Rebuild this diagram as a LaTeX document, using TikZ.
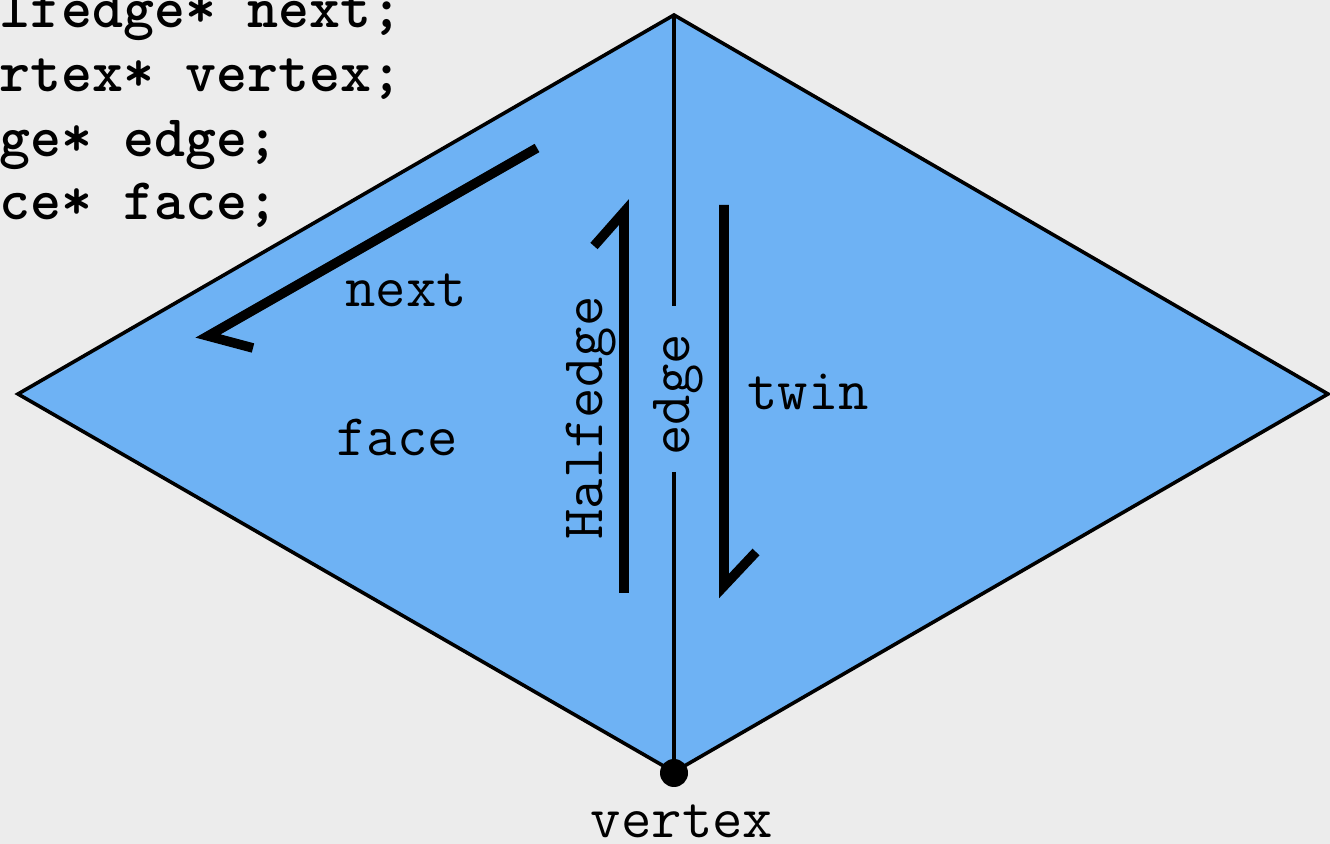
\documentclass[tikz,border=0pt]{standalone}
\usepackage{fontspec}
\definecolor{bg}{HTML}{ECECEC}
\definecolor{facefill}{HTML}{6EB2F4}
\begin{document}
\begin{tikzpicture}[x=0.5pt,y=-0.5pt,
  lbl/.style={font=\ttfamily\fontsize{29.5}{34}\selectfont, inner sep=0pt},
  code/.style={font=\ttfamily\bfseries\fontsize{29.5}{34}\selectfont, inner sep=0pt, anchor=base west},
  thinline/.style={line width=1.8pt},
  harrow/.style={line width=4.8pt, line join=miter, miter limit=20}]
\fill[bg] (0,0) rectangle (1330,844);
\useasboundingbox (0,0) rectangle (1330,844);
% diamond
\coordinate (L) at (18,394);
\coordinate (T) at (674,15);
\coordinate (R) at (1328,394);
\coordinate (B) at (674,772);
\filldraw[fill=facefill, thinline, line join=miter] (L) -- (T) -- (R) -- (B) -- cycle;
% edge line with gap
\node[lbl, rotate=90, anchor=base west] (edge) at (689,456) {edge};
\coordinate (gapTop) at (674,306);
\coordinate (gapBot) at (674,472);
\draw[thinline] (T) -- (gapTop);
\draw[thinline] (gapBot) -- (B);
% vertex dot
\node[circle, fill=black, minimum size=14pt, inner sep=0pt] (vdot) at (674,773) {};
\node[lbl, anchor=base] (vertex) at (682,838) {vertex};
% next arrow
\coordinate (n1) at (537,148);
\coordinate (n2) at (208,336);
\coordinate (n3) at (253,348);
\draw[harrow] (n1) -- (n2) -- (n3);
\node[lbl, anchor=base] (next) at (406,307) {next};
% halfedge arrow
\coordinate (h1) at (624,593);
\coordinate (h2) at (624,212);
\coordinate (h3) at (594,246);
\draw[harrow] (h1) -- (h2) -- (h3);
\node[lbl, rotate=90, anchor=base west] (half) at (602,540) {Halfedge};
% twin arrow
\coordinate (t1) at (724,205);
\coordinate (t2) at (724,586);
\coordinate (t3) at (756,552);
\draw[harrow] (t1) -- (t2) -- (t3);
\node[lbl, anchor=base] (twin) at (808,410) {twin};
% face
\node[lbl, anchor=base] (face) at (397,456) {face};
% code
\node[code] (c1) at (-1,28) {lfedge* next;};
\node[code] (c2) at (-1,92) {rtex* vertex;};
\node[code] (c3) at (-1,157) {ge* edge;};
\node[code] (c4) at (-1,220) {ce* face;};
\end{tikzpicture}
\end{document}
